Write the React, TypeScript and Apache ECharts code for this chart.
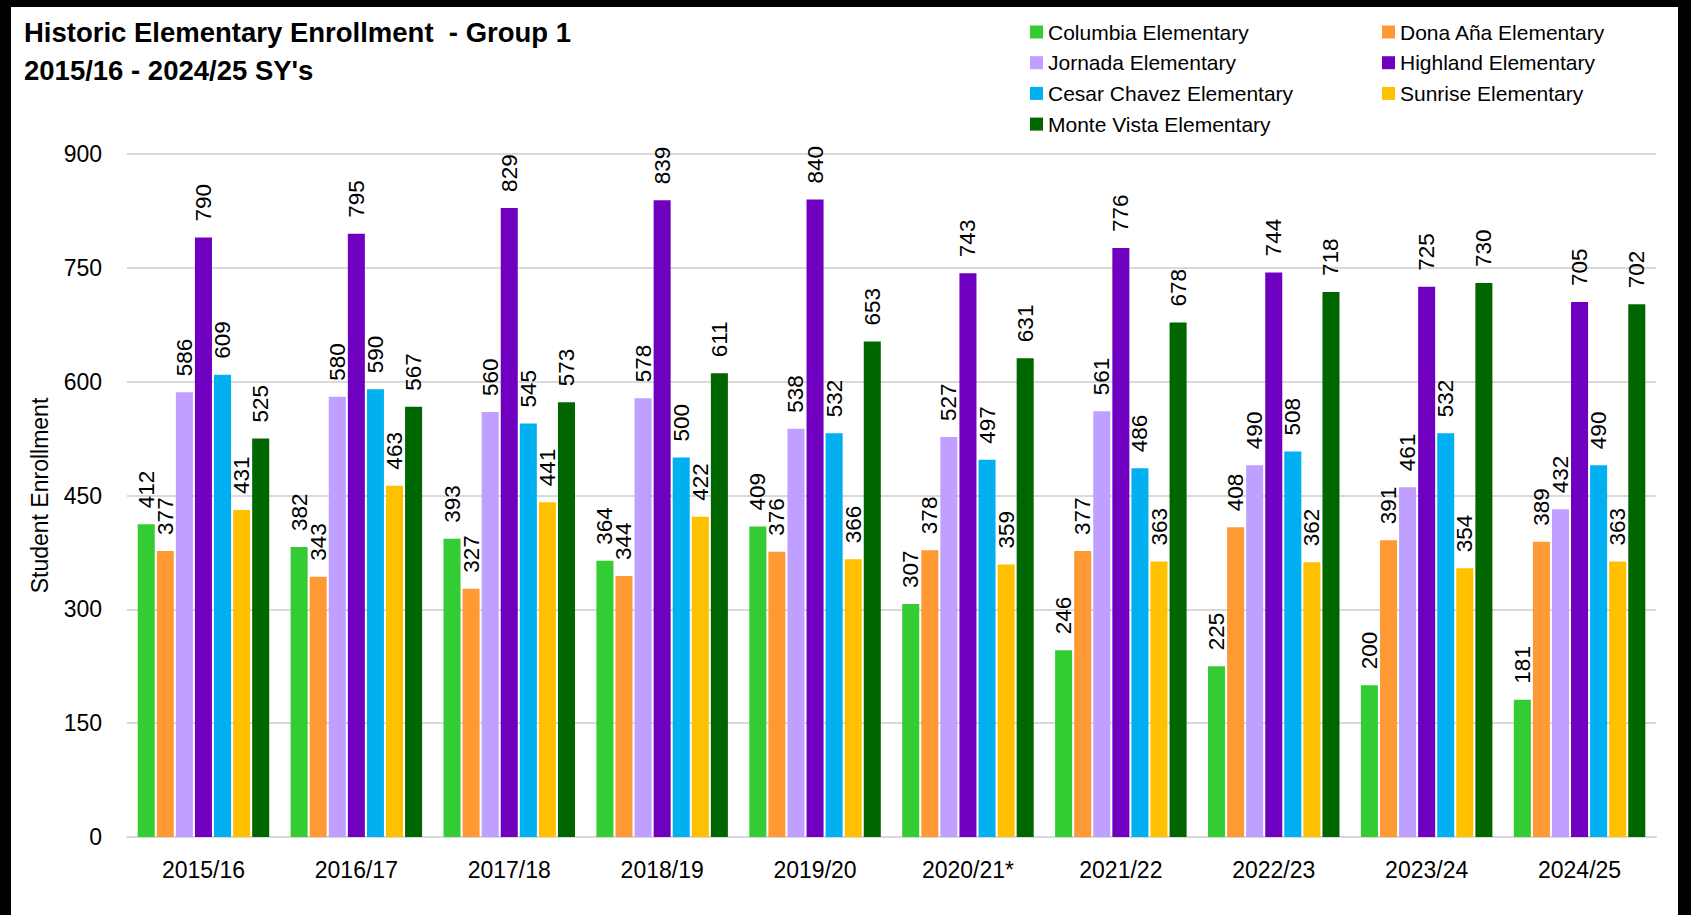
import React, { useEffect, useRef } from "react";
import * as echarts from "echarts";

const categories = ["2015/16", "2016/17", "2017/18", "2018/19", "2019/20", "2020/21*", "2021/22", "2022/23", "2023/24", "2024/25"];
const columbia = [412, 382, 393, 364, 409, 307, 246, 225, 200, 181];
const donaAna = [377, 343, 327, 344, 376, 378, 377, 408, 391, 389];
const jornada = [586, 580, 560, 578, 538, 527, 561, 490, 461, 432];
const highland = [790, 795, 829, 839, 840, 743, 776, 744, 725, 705];
const cesarChavez = [609, 590, 545, 500, 532, 497, 486, 508, 532, 490];
const sunrise = [431, 463, 441, 422, 366, 359, 363, 362, 354, 363];
const monteVista = [525, 567, 573, 611, 653, 631, 678, 718, 730, 702];

const seriesNames = [
  "Columbia Elementary",
  "Dona Aña Elementary",
  "Jornada Elementary",
  "Highland Elementary",
  "Cesar Chavez Elementary",
  "Sunrise Elementary",
  "Monte Vista Elementary",
];
const seriesData = [columbia, donaAna, jornada, highland, cesarChavez, sunrise, monteVista];
const colors = ["#33CC33", "#FF9933", "#BF9FFF", "#7000C0", "#00B0F0", "#FFC000", "#006600"];

const FONT = "'Liberation Sans', Arial, sans-serif";

export default function App() {
  const ref = useRef<HTMLDivElement>(null);
  useEffect(() => {
    if (!ref.current) return;
    const chart = echarts.init(ref.current, undefined, { renderer: "svg" });
    const legendText = { fontFamily: FONT, fontSize: 21, color: "#000", lineHeight: 24 };
    chart.setOption({
      animation: false,
      backgroundColor: "#fff",
      color: colors,
      title: {
        text: "Historic Elementary Enrollment  - Group 1\n2015/16 - 2024/25 SY's",
        left: 13,
        top: 6,
        padding: 0,
        textStyle: { fontFamily: FONT, fontSize: 27.5, fontWeight: "bold", color: "#000", lineHeight: 38 },
      },
      legend: [
        {
          orient: "vertical",
          left: 1019,
          top: 13,
          padding: 0,
          itemGap: 6.7,
          itemWidth: 13,
          itemHeight: 13,
          icon: "rect",
          data: [seriesNames[0], seriesNames[2], seriesNames[4], seriesNames[6]],
          textStyle: legendText,
        },
        {
          orient: "vertical",
          left: 1371,
          top: 13,
          padding: 0,
          itemGap: 6.7,
          itemWidth: 13,
          itemHeight: 13,
          icon: "rect",
          data: [seriesNames[1], seriesNames[3], seriesNames[5]],
          textStyle: legendText,
        },
      ],
      grid: { left: 116, right: 22, top: 147, bottom: 78, containLabel: false },
      xAxis: {
        type: "category",
        data: categories,
        axisTick: { show: false },
        axisLine: { lineStyle: { color: "#D9D9D9", width: 2 } },
        axisLabel: { fontFamily: FONT, fontSize: 23, color: "#000", margin: 21 },
      },
      yAxis: {
        type: "value",
        min: 0,
        max: 900,
        interval: 150,
        name: "Student Enrollment",
        nameLocation: "middle",
        nameRotate: 90,
        nameGap: 76,
        nameTextStyle: { fontFamily: FONT, fontSize: 23, color: "#000" },
        axisLine: { show: false },
        axisTick: { show: false },
        axisLabel: { fontFamily: FONT, fontSize: 23, color: "#000", margin: 25 },
        splitLine: { lineStyle: { color: "#D9D9D9", width: 2 } },
      },
      series: seriesNames.map((name, i) => ({
        name,
        type: "bar",
        data: seriesData[i],
        barCategoryGap: "14%",
        barGap: "12%",
        itemStyle: { color: colors[i] },
        label: {
          show: true,
          position: "top",
          rotate: 90,
          align: "left",
          verticalAlign: "middle",
          distance: 16,
          fontFamily: FONT,
          fontSize: 22.5,
          color: "#000",
        },
      })),
    });
    return () => chart.dispose();
  }, []);
  return (
    <div style={{ position: "absolute", left: 0, top: 0, width: 1691, height: 915, background: "#000" }}>
      <div ref={ref} style={{ position: "absolute", left: 11, top: 7, width: 1667, height: 908, background: "#fff" }} />
    </div>
  );
}
